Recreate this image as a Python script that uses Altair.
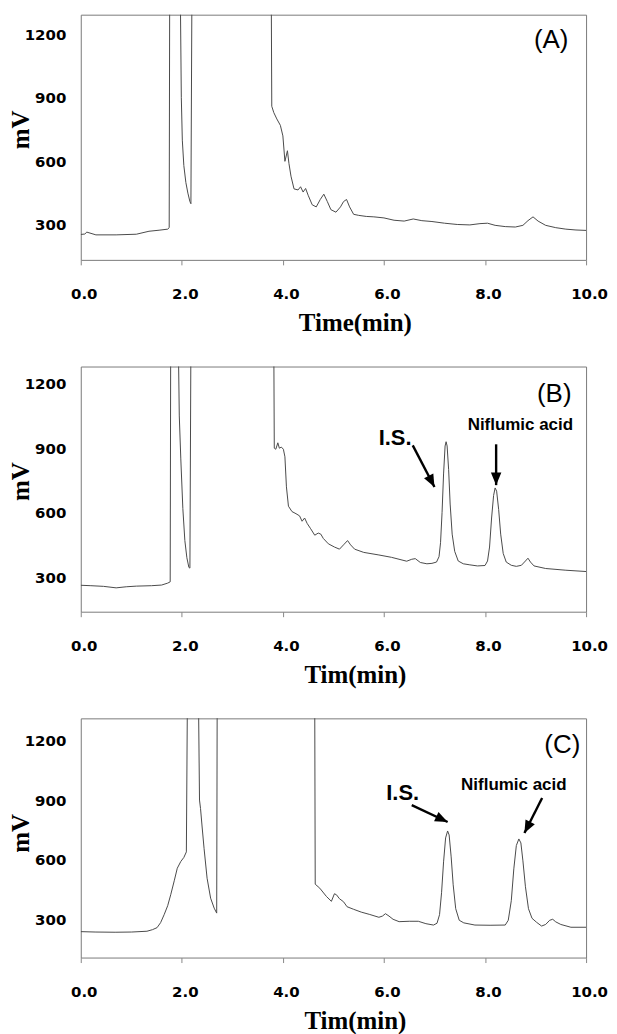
import altair as alt
import pandas as pd

# ---- chromatogram traces (time in min, signal in mV); 1400 = off scale (clipped) ----
a_points = [(0.00, 255), (0.08, 257), (0.12, 266), (0.30, 253), (0.70, 253), (1.10, 256),
            (1.35, 270), (1.55, 275), (1.72, 280), (1.75, 287), (1.76, 1400), (1.97, 1400),
            (1.99, 900), (2.01, 700), (2.04, 580), (2.08, 500), (2.12, 450), (2.16, 410),
            (2.18, 400), (2.20, 1400), (3.77, 1400), (3.78, 860), (3.82, 830), (3.88, 800),
            (3.95, 770), (4.00, 720), (4.04, 600), (4.07, 630), (4.09, 650), (4.12, 590),
            (4.16, 530), (4.22, 470), (4.30, 465), (4.35, 480), (4.40, 455), (4.45, 472),
            (4.50, 440), (4.58, 395), (4.66, 385), (4.74, 420), (4.81, 445), (4.88, 410),
            (4.95, 372), (5.05, 360), (5.14, 385), (5.20, 410), (5.26, 420), (5.32, 385),
            (5.40, 350), (5.50, 345), (5.65, 340), (5.80, 338), (6.00, 333), (6.20, 322),
            (6.40, 318), (6.58, 328), (6.75, 320), (6.95, 316), (7.20, 308), (7.45, 302),
            (7.70, 300), (7.90, 306), (8.05, 308), (8.20, 298), (8.40, 292), (8.60, 290),
            (8.75, 298), (8.85, 320), (8.95, 338), (9.05, 318), (9.20, 298), (9.40, 287),
            (9.60, 280), (9.80, 276), (10.00, 274)]

b_points = [(0.00, 262), (0.20, 260), (0.45, 257), (0.70, 250), (0.90, 255), (1.10, 258),
            (1.40, 260), (1.60, 263), (1.72, 272), (1.77, 278), (1.78, 1400), (1.93, 1400),
            (1.95, 1050), (1.98, 850), (2.02, 620), (2.06, 470), (2.10, 390), (2.14, 345),
            (2.16, 342), (2.18, 1400), (3.82, 1400), (3.83, 900), (3.86, 895), (3.90, 925),
            (3.93, 900), (3.97, 905), (4.01, 895), (4.04, 860), (4.07, 720), (4.11, 630),
            (4.18, 605), (4.26, 595), (4.33, 585), (4.38, 560), (4.43, 575), (4.48, 550),
            (4.55, 525), (4.63, 495), (4.70, 505), (4.75, 500), (4.80, 480), (4.90, 455),
            (5.02, 440), (5.12, 430), (5.20, 450), (5.28, 470), (5.34, 450), (5.42, 430),
            (5.60, 415), (5.90, 403), (6.15, 392), (6.45, 374), (6.55, 383), (6.62, 386),
            (6.72, 368), (6.85, 362), (6.95, 364), (7.04, 370), (7.09, 395), (7.12, 460),
            (7.15, 600), (7.18, 780), (7.21, 910), (7.23, 930), (7.25, 910), (7.28, 800),
            (7.31, 640), (7.35, 500), (7.40, 420), (7.47, 375), (7.57, 362), (7.70, 357),
            (7.85, 352), (8.00, 354), (8.05, 375), (8.09, 440), (8.13, 575), (8.17, 680),
            (8.20, 715), (8.23, 700), (8.27, 615), (8.31, 500), (8.36, 410), (8.42, 370),
            (8.52, 355), (8.62, 350), (8.72, 355), (8.80, 375), (8.85, 388), (8.90, 370),
            (8.97, 352), (9.20, 340), (9.60, 332), (10.00, 326)]

c_points = [(0.00, 240), (0.30, 238), (0.68, 237), (1.00, 238), (1.31, 242), (1.42, 250),
            (1.51, 260), (1.58, 285), (1.65, 325), (1.72, 370), (1.78, 425), (1.85, 495),
            (1.91, 558), (1.98, 592), (2.04, 612), (2.09, 640), (2.11, 1400), (2.33, 1400),
            (2.35, 900), (2.37, 858), (2.40, 770), (2.44, 658), (2.50, 508), (2.57, 408),
            (2.64, 358), (2.69, 333), (2.70, 1400), (4.63, 1400), (4.64, 478), (4.73, 458),
            (4.86, 417), (4.96, 392), (5.02, 430), (5.06, 425), (5.12, 405), (5.20, 390),
            (5.27, 365), (5.40, 352), (5.55, 338), (5.72, 326), (5.90, 312), (5.97, 318),
            (6.03, 330), (6.10, 318), (6.18, 302), (6.30, 290), (6.50, 292), (6.68, 292),
            (6.83, 280), (6.98, 273), (7.05, 282), (7.10, 325), (7.14, 435), (7.18, 590),
            (7.22, 710), (7.26, 745), (7.29, 725), (7.33, 615), (7.37, 475), (7.42, 355),
            (7.49, 297), (7.58, 284), (7.80, 273), (8.10, 272), (8.40, 273), (8.46, 297),
            (8.52, 395), (8.57, 555), (8.62, 672), (8.67, 705), (8.71, 685), (8.75, 595),
            (8.80, 465), (8.86, 355), (8.93, 307), (9.02, 287), (9.12, 268), (9.20, 276),
            (9.28, 297), (9.34, 302), (9.40, 289), (9.50, 276), (9.70, 262), (10.00, 262)]

x_ticks = [0, 2, 4, 6, 8, 10]
y_ticks = [300, 600, 900, 1200]
x_titles = ["Time(min)", "Tim(min)", "Tim(min)"]
panel_letters = ["(A)", "(B)", "(C)"]
y_domains = [[135, 1292], [139, 1280], [110, 1310]]
panel_heights = [246, 246, 240]
letter_xy = [(9.31, 1174), (9.37, 1150), (9.53, 1175)]
is_xy = [None, (6.22, 946), (6.37, 935)]
nif_xy = [None, (8.70, 1006), (8.57, 975)]
# arrows: start x, start y, tip x, tip y, heading (deg clockwise from up)
arrows = [None,
          [(6.57, 913, 7.00, 719, 152.4), (8.22, 918, 8.22, 728, 180.0)],
          [(6.55, 875, 7.26, 790, 115.3), (9.13, 910, 8.78, 735, 207.2)]]
all_points = [a_points, b_points, c_points]

ARROW_PATH = "M0,0L-1,2.4L1,2.4Z"


def panel(i):
    xs = alt.Scale(domain=[0, 10], nice=False, zero=False)
    ys = alt.Scale(domain=y_domains[i], nice=False, zero=False)
    df = pd.DataFrame(all_points[i], columns=["t", "mv"])
    xaxis = alt.Axis(values=x_ticks, format=".1f", grid=False, domain=False,
                     labelFont="DejaVu Sans", labelFontWeight="bold", labelFontSize=15,
                     labelColor="black", labelPadding=22, labelFlush=False, labelOffset=3,
                     tickSize=5, tickColor="#888",
                     title=x_titles[i], titleFont="Liberation Serif", titleFontWeight="bold",
                     titleFontSize=25, titleColor="black", titleX=275, titleY=63,
                     titleBaseline="middle", titleAlign="center")
    yaxis = alt.Axis(values=y_ticks, format="d", grid=False, domain=False,
                     labelFont="DejaVu Sans", labelFontWeight="bold", labelFontSize=15,
                     labelColor="black", labelPadding=15, tickSize=0,
                     title="mV", titleFont="Liberation Serif", titleFontWeight="bold",
                     titleFontSize=25, titleColor="black", titleX=-60, titleY=115,
                     titleAngle=270, titleBaseline="middle", titleAlign="center")

    def X(f):
        return alt.X(f, scale=xs, axis=xaxis)

    def Y(f):
        return alt.Y(f, scale=ys, axis=yaxis)

    line = alt.Chart(df).mark_line(color="#4a4a4a", strokeWidth=1, clip=True).encode(
        x=X("t:Q"), y=Y("mv:Q"))
    layers = [line]

    lx, ly = letter_xy[i]
    letter = alt.Chart(pd.DataFrame({"t": [lx], "mv": [ly], "s": [panel_letters[i]]})).mark_text(
        font="Liberation Sans", fontSize=26, color="black", align="center", baseline="middle"
    ).encode(x=X("t:Q"), y=Y("mv:Q"), text="s:N")
    layers.append(letter)

    if is_xy[i] is not None:
        ix, iy = is_xy[i]
        nx, ny = nif_xy[i]
        is_t = alt.Chart(pd.DataFrame({"t": [ix], "mv": [iy], "s": ["I.S."]})).mark_text(
            font="Liberation Sans", fontWeight="bold", fontSize=22, color="black",
            align="center", baseline="middle"
        ).encode(x=X("t:Q"), y=Y("mv:Q"), text="s:N")
        nif_t = alt.Chart(pd.DataFrame({"t": [nx], "mv": [ny], "s": ["Niflumic acid"]})).mark_text(
            font="Liberation Sans", fontWeight="bold", fontSize=17, color="black",
            align="center", baseline="middle"
        ).encode(x=X("t:Q"), y=Y("mv:Q"), text="s:N")
        adf = pd.DataFrame(arrows[i], columns=["t", "mv", "t2", "mv2", "ang"])
        shafts = alt.Chart(adf).mark_rule(color="black", strokeWidth=2.4).encode(
            x=X("t:Q"), y=Y("mv:Q"), x2="t2:Q", y2="mv2:Q")
        heads = alt.Chart(adf).mark_point(shape=ARROW_PATH, filled=True, color="black",
                                          opacity=1, size=110, strokeWidth=0).encode(
            x=X("t2:Q"), y=Y("mv2:Q"), angle=alt.Angle("ang:Q", scale=None))
        layers += [is_t, nif_t, shafts, heads]

    return alt.layer(*layers).properties(width=507, height=panel_heights[i])


chart = alt.vconcat(panel(0), panel(1), panel(2), spacing=29).properties(
    padding={"left": 0, "top": 4, "right": 0, "bottom": 0}
).configure_view(stroke="#7a7a7a", strokeWidth=1)

chart.save("out.html", embed_options={"renderer": "svg", "actions": False})
